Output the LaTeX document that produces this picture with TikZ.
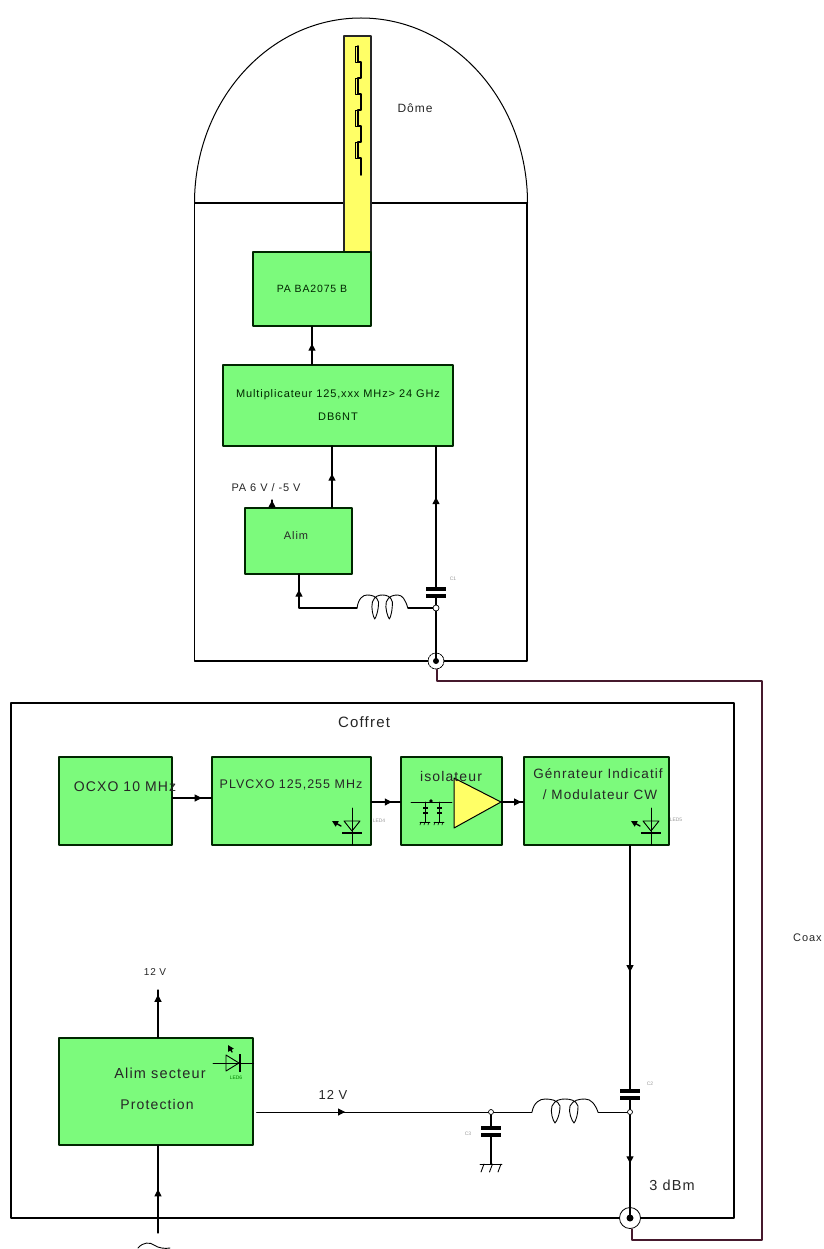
\documentclass[tikz,border=0pt]{standalone}
\usepackage{fontspec}
\setmainfont{Liberation Sans}
\newfontfamily\blocfont[LetterSpace=8]{Liberation Sans}
\usetikzlibrary{arrows.meta,decorations.markings}

\definecolor{boxgreen}{RGB}{124,250,124}
\definecolor{barjaune}{RGB}{255,255,102}
\definecolor{coaxline}{RGB}{70,25,45}

\tikzset{
    bloc/.style={draw=black!85!green, fill=boxgreen, line width=1.2pt, inner sep=0pt,
        font=\blocfont\fontsize{#1}{#1}\selectfont, text=black!85!green},
    bloc/.default=11,
    wire/.style={line width=1.1pt},
    flow/.style={postaction={decorate}, decoration={markings,
        mark=at position #1 with {\arrow{Triangle[length=7pt,width=7pt]}}}},
    txt/.style={inner sep=0pt, font=\blocfont\fontsize{#1}{#1}\selectfont, text=black!85},
    petit/.style={inner sep=0pt, font=\fontsize{5}{6}\selectfont, text=black!40},
    jonc/.style={draw, fill=white, circle, line width=.7pt, minimum size=6pt, inner sep=0pt}
}

% Condensateur: plaques horizontales
\newcommand{\capa}[1]{
    \fill[white] (#1) ++(-9,-2) rectangle ++(18,4);
    \fill (#1) ++(-10,-5.5) rectangle ++(20,4);
    \fill (#1) ++(-10,1.5) rectangle ++(20,4);
}
% Self: trois arches et deux boucles
\newcommand{\self}[2]{
    \begin{scope}[shift={(#1)}, xscale=#2]
    \draw[line width=.9pt] (0,0) .. controls (2,-10) and (8,-13) .. (13,-13)
        .. controls (19,-13) and (26,-12) .. (28,-6)
        .. controls (28,2) and (25,9) .. (23,11)
        .. controls (21,9) and (18,0) .. (20,-6)
        .. controls (23,-12) and (28,-13) .. (33,-13)
        .. controls (38,-13) and (44,-12) .. (46,-6)
        .. controls (46,2) and (44,9) .. (42,11)
        .. controls (40,9) and (36,0) .. (38,-6)
        .. controls (41,-12) and (47,-13) .. (53,-13)
        .. controls (59,-13) and (63,-8) .. (66,0);
    \end{scope}
}
% Diode LED verticale
\newcommand{\ledv}[2]{
    \draw[line width=.8pt] (#1,#2) ++(0,-13) -- ++(0,37);
    \draw[line width=.9pt] (#1,#2) ++(-8,0) -- ++(16,0) -- ++(-8,10) -- cycle;
    \fill (#1,#2) ++(-10,11) rectangle ++(20,2.2);
    \draw[-{Triangle[length=6pt,width=6pt]}, line width=1.4pt] (#1,#2) ++(-11,5) -- ++(-9,-5);
}

\begin{document}
\begin{tikzpicture}[x=1pt, y=-1pt, line cap=round, line join=round]

\useasboundingbox (0,0) rectangle (823,1249);

% Jonctions et points libres
\coordinate (c1) at (436,592.5);
\coordinate (c2) at (630,1094.5);
\coordinate (c3) at (491,1131);
\coordinate (l1a) at (357,608);
\coordinate (l1b) at (408,608);
\coordinate (l2a) at (532,1112);
\coordinate (l2b) at (598,1112);
\coordinate (masse) at (491,1164);
\coordinate (secteur) at (158,1233);
\coordinate (sortie) at (158,990);
\coordinate (stubpa) at (272,500);
\coordinate (xalim) at (299,574);
\coordinate (xmulti) at (332,446);
\coordinate (ampin) at (452,802);
\coordinate (amptip) at (501,802);
\coordinate (coaxa) at (437,681);
\coordinate (coaxb) at (762,681);
\coordinate (coaxc) at (762,1240);
\coordinate (coaxd) at (632,1240);

% Dome et enceintes
\draw[line width=1pt] (194.5,203) arc[start angle=180, end angle=360, x radius=166.5, y radius=185];
\draw[wire] (194.5,203) -- (527,203) -- (527,661) -- (194.5,661) -- cycle;
\draw[wire] (11,703) rectangle (734,1218);

% Antenne
\node[draw=black!85, fill=barjaune, line width=1.2pt, minimum width=27pt, minimum height=216pt, inner sep=0pt] (antenne) at (357.5,144) {};
\draw[line width=1.6pt] (358,46) -- (358,62) -- (361,62) -- (361,78) -- (358,78) -- (358,94) -- (361,94) -- (361,110)
    -- (358,110) -- (358,126) -- (361,126) -- (361,142) -- (358,142) -- (358,158) -- (361,158) -- (361,175);
\draw[line width=.6pt] (358,46) -- (355,46) -- (355,62) -- (358,62)
    (358,78) -- (355,78) -- (355,94) -- (358,94)
    (358,110) -- (355,110) -- (355,126) -- (358,126)
    (358,142) -- (355,142) -- (355,158) -- (358,158);
\node[txt=12] (ldome) at (415,108) {Dôme};

% Blocs du haut
\node[bloc=10.5, minimum width=118pt, minimum height=74pt] (pa) at (312,289) {PA BA2075 B};
\node[bloc=11, minimum width=230pt, minimum height=81pt, align=center] (multi) at (338,405.5)
    {Multiplicateur  125,xxx MHz> 24 GHz\\[12pt] DB6NT};
\node[bloc, minimum width=107pt, minimum height=66pt] (alim) at (298.5,541) {};
\node[txt=11] (lalim) at (296,536) {Alim};
\node[txt=11] (lpa) at (266,488) {PA 6 V / -5 V};

\draw[wire, flow=.55] (multi.north -| pa) -- (pa.south);
\draw[wire, flow=.55] (alim.north -| xmulti) -- (xmulti);
\draw[wire, flow=.95] (alim.north -| stubpa) -- (stubpa);

% Prise du dome et alimentation par le coax
\node[draw, fill=white, circle, dash pattern=on 2pt off 1pt, line width=.8pt, minimum size=16pt, inner sep=0pt] (dome) at (436,661) {};
\fill (dome) circle (3pt);
\node[jonc] (jalim) at (436,608) {};
\draw[wire] (dome.center) -- (jalim);
\draw[wire, flow=.68] (jalim) -- (multi.south -| jalim);
\capa{c1}
\draw[wire, flow=.83] (l1a) -| (xalim);
\self{l1a}{.77}
\draw[wire] (l1b) -- (jalim);
\node[petit] (lc1) at (453,579) {C1};

% Blocs du coffret
\node[txt=15] (lcoffret) at (364,722) {Coffret};
\node[bloc, minimum width=113pt, minimum height=88pt] (ocxo) at (115.5,801) {};
\node[bloc, minimum width=159pt, minimum height=88pt] (plv) at (291.5,801) {};
\node[bloc, minimum width=101pt, minimum height=88pt] (iso) at (451.5,801) {};
\node[bloc, minimum width=145pt, minimum height=88pt] (gen) at (596.5,801) {};

\draw[wire, flow=.75] (ocxo.east |- 0,798) -- (plv.west |- 0,798);
\draw[wire, flow=.7] (plv.east |- ampin) -- (iso.west |- ampin);
\draw[wire, flow=.9] (amptip) -- (gen.west |- amptip);

% Isolateur
\draw[line width=1pt, fill=barjaune] (454,778) -- (amptip) -- (454,828) -- cycle;
\draw[line width=.9pt] (411,802) -- (ampin);
\foreach \x in {425,439}{
    \draw[line width=.8pt] (\x,802) -- (\x,822);
    \fill (\x-2.5,807) rectangle (\x+2.5,809);
    \fill (\x-2.5,812) rectangle (\x+2.5,814);
    \draw[line width=.8pt] (\x-5,822) -- (\x+5,822);
    \foreach \d in {-4,0,4} \draw[line width=.6pt] (\x+\d,822) -- (\x+\d-1,825);
}
\fill (431,801) circle (1.8pt);

\node[txt=12.5] (lpll) at (291,785) {PLVCXO 125,255 MHz};
\node[txt=14] (locxo) at (125,787) {OCXO 10 MHz};
\node[txt=14] (liso) at (451,776) {isolateur};
\node[txt=13.5] (lgen1) at (598,774) {Génrateur Indicatif};
\node[txt=13.5] (lgen2) at (600,795) {/ Modulateur CW};

\ledv{352}{821}
\ledv{651}{821}
\node[petit] (lled4) at (379,821) {LED4};
\node[petit] (lled5) at (676,820) {LED5};

% Alimentation secteur
\node[bloc, minimum width=194pt, minimum height=107pt] (secte) at (156,1091.5) {};
\node[txt=14.5] (lsect1) at (160,1073) {Alim secteur};
\node[txt=14] (lsect2) at (157,1104) {Protection};
\draw[wire, flow=.9] (secte.north -| sortie) -- (sortie);
\node[txt=10] (lsortie) at (155,972) {12 V};
\draw[wire, flow=.5] (secteur) -- (secte.south -| secteur);
\draw[line width=.9pt] (138,1248) .. controls (143,1242) and (150,1242) .. (154,1245)
    .. controls (158,1248) and (165,1249) .. (170,1248);

% Led du bloc secteur
\draw[line width=.8pt] (213,1063) -- (secte.east |- 0,1063);
\draw[line width=.9pt] (226,1055) -- (226,1071) -- (239,1063) -- cycle;
\fill (239,1054) rectangle (241.2,1072);
\draw[-{Triangle[length=6pt,width=6pt]}, line width=1.4pt] (232,1052) -- (228,1045);
\node[petit, text=green!50!black] (lled6) at (236,1078) {LED6};

% Filtre et sortie vers le coax
\node[jonc, minimum size=5pt] (jcap) at (491,1112) {};
\node[jonc, minimum size=5pt] (jsect) at (630,1112) {};
\node[draw, fill=white, circle, line width=.8pt, minimum size=21pt, inner sep=0pt] (prise) at (630,1218) {};
\fill (prise) circle (3.5pt);
\draw[line width=1.8pt] (prise.east) -- ++(13,0);
\draw[line width=.8pt, shorten <=3pt, flow=.39] (secte.east |- jcap) -- (jcap);
\node[txt=13] (l12v) at (333,1095) {12 V};
\draw[line width=.9pt] (jcap) -- (l2a);
\self{l2a}{1}
\draw[line width=.9pt] (l2b) -- (jsect);
\draw[wire, flow=.48] (gen.south -| jsect) -- (jsect);
\capa{c2}
\draw[wire, flow=.47] (jsect) -- (prise.center);
\node[txt=14.5] (ldbm) at (672,1185) {3 dBm};
\node[petit] (lc2) at (650,1084) {C2};
\draw[wire] (jcap) -- (masse);
\capa{c3}
\node[petit] (lc3) at (468,1134) {C3};
\draw[line width=.9pt] (480,1164) -- (502,1164);
\foreach \x in {484,492.5,501} \draw[line width=.9pt] (\x,1164) -- (\x-3,1172);

% Cable coaxial
\draw[line width=1.1pt, draw=coaxline] (dome.south -| coaxa) -- (coaxa) -- (coaxb) -- (coaxc) -- (coaxd) -- (prise.south -| coaxd);
\node[txt=11, anchor=west] (lcoax) at (793,938) {Coax};

\end{tikzpicture}
\end{document}
